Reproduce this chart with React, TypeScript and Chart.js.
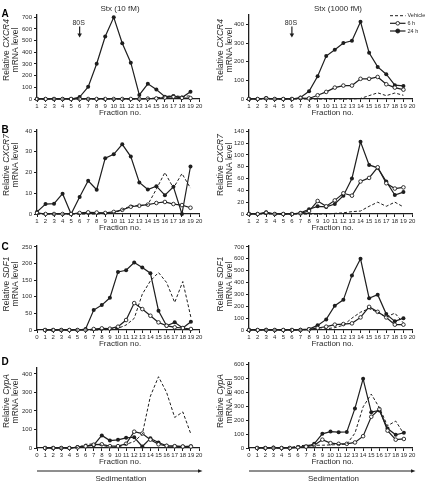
import React, { useEffect, useRef } from 'react';
import { Chart, registerables } from 'chart.js';

Chart.register(...registerables);

const FONT = '"Liberation Sans", Arial, Helvetica, sans-serif';
const INK = '#1e1e1e';
const TEXT = '#2c2c2c';

// Gradient fractions collected from each sucrose gradient
const FRACTIONS = [1, 2, 3, 4, 5, 6, 7, 8, 9, 10, 11, 12, 13, 14, 15, 16, 17, 18, 19];

// CXCR4, Stx 10 fM
const CXCR4_10_VEHICLE = [0, 0, 0, 0, 0, 0, 0, 0, 0, 0, 0, 0, 0, 2, 10, 18, 30, 20, 28];
const CXCR4_10_6H = [0, 0, 0, 0, 0, 0, 0, 0, 0, 0, 0, 0, 0, 3, 5, 12, 20, 10, 8];
const CXCR4_10_24H = [0, 0, 0, 0, 0, 17, 104, 302, 536, 700, 478, 311, 35, 130, 81, 20, 25, 12, 63];

// CXCR4, Stx 1000 fM
const CXCR4_1000_VEHICLE = [0, 0, 0, 0, 0, 0, 0, 0, 0, 0, 0, 0, 0, 3, 18, 33, 18, 32, 20];
const CXCR4_1000_6H = [0, 0, 3, 0, 0, 0, 5, 3, 20, 38, 61, 72, 72, 108, 108, 118, 79, 61, 50];
const CXCR4_1000_24H = [0, 0, 5, 0, 0, 0, 8, 41, 122, 230, 264, 300, 312, 414, 248, 172, 133, 74, 70];

// CXCR7, Stx 10 fM
const CXCR7_10_VEHICLE = [0, 0, 0, 0, 0, 0, 0, 0, 0.3, 0.5, 2, 4, 4, 4.5, 12, 20, 12.5, 19.5, 12.5];
const CXCR7_10_6H = [0.5, 0, 0, 0, 0, 0.5, 0.8, 0.7, 0.5, 1, 2, 3.5, 4, 4.5, 5.3, 5.8, 4.8, 4.3, 3];
const CXCR7_10_24H = [1, 4.8, 5, 9.8, 0, 8.2, 16, 11.7, 26.9, 28.8, 33.6, 27.7, 15.2, 11.8, 13.4, 9.1, 13.1, 0, 22.9];

// CXCR7, Stx 1000 fM
const CXCR7_1000_VEHICLE = [0, 0, 0, 0, 0, 0, 0, 0, 0, 0, 1, 2, 4, 5, 13, 20, 13, 20, 12];
const CXCR7_1000_6H = [0, 0, 2, 0, 0, 0, 1, 5, 22, 13, 23, 35, 31, 55, 61, 79, 52, 43, 45];
const CXCR7_1000_24H = [0, 0, 3, 0, 0, 0, 2, 8, 13, 12, 17, 31, 60, 122, 83, 78, 55, 32, 37];

// SDF1, Stx 10 fM
const SDF1_10_VEHICLE = [0, 0, 0, 0, 0, 0, 0, 0, 2, 5, 15, 35, 108, 148, 173, 143, 83, 146, 38];
const SDF1_10_6H = [0, 0, 0, 0, 0, 0, 3, 5, 4, 10, 30, 81, 63, 43, 23, 13, 8, 6, 3];
const SDF1_10_24H = [0, 0, 0, 0, 0, 3, 60, 75, 97, 175, 180, 203, 188, 171, 58, 13, 23, 6, 25];

// SDF1, Stx 1000 fM
const SDF1_1000_VEHICLE = [0, 0, 0, 0, 0, 0, 0, 3, 5, 10, 20, 40, 100, 150, 180, 150, 110, 142, 60];
const SDF1_1000_6H = [0, 0, 0, 0, 0, 0, 0, 5, 17, 28, 45, 50, 56, 106, 195, 153, 106, 45, 45];
const SDF1_1000_24H = [0, 0, 3, 0, 0, 0, 3, 8, 39, 89, 204, 254, 460, 600, 268, 298, 134, 73, 100];

// CypA, Stx 10 fM
const CYPA_10_VEHICLE = [0, 0, 0, 0, 2, 20, 22, 15, 5, 5, 20, 35, 75, 280, 385, 300, 165, 195, 75];
const CYPA_10_6H = [0, 0, 0, 0, 3, 10, 18, 20, 10, 10, 23, 88, 78, 45, 20, 12, 10, 8, 8];
const CYPA_10_24H = [0, 0, 0, 0, 5, 8, 15, 68, 40, 44, 55, 58, 8, 52, 30, 12, 10, 8, 10];

// CypA, Stx 1000 fM
const CYPA_1000_VEHICLE = [0, 0, 0, 0, 2, 15, 20, 20, 20, 22, 25, 28, 107, 296, 388, 290, 160, 194, 102];
const CYPA_1000_6H = [0, 0, 0, 0, 0, 5, 10, 20, 60, 35, 30, 30, 40, 85, 225, 280, 125, 60, 65];
const CYPA_1000_24H = [0, 0, 3, 0, 0, 5, 10, 30, 102, 118, 114, 116, 285, 498, 258, 270, 140, 95, 110];

const LEGEND_LABELS = ['Vehicle', '6 h', '24 h'];

type Box = { x: number; y: number; w: number; h: number };
type Area = { l: number; r: number; t: number; b: number };
type PanelSpec = {
  key: string;
  cell: Box;
  area: Area;
  xMin: number;
  yMax: number;
  yStep: number;
  vehicle: number[];
  h6: number[];
  h24: number[];
  gene: string;
  yTitleY: number;
  letter?: string;
  letterY?: number;
  title?: string;
  titleX?: number;
  marker80S?: boolean;
  legend?: boolean;
  sediment?: boolean;
};

const Y_AXIS_W = 30;
const X_AXIS_H = 14;
const X_MAX = 20;

const LEFT = { x: 0, w: 214 };
const RIGHT = { x: 214, w: 214 };
const ROW_A = { y: 0, h: 118 };
const ROW_B = { y: 118, h: 115 };
const ROW_C = { y: 233, h: 117 };
const ROW_D = { y: 350, h: 135 };

const PANELS: PanelSpec[] = [
  {
    key: 'a1', cell: { ...LEFT, ...ROW_A }, area: { l: 37, r: 199, t: 15, b: 99 },
    xMin: 1, yMax: 720, yStep: 100,
    vehicle: CXCR4_10_VEHICLE, h6: CXCR4_10_6H, h24: CXCR4_10_24H,
    gene: 'CXCR4', yTitleY: 50, letter: 'A', letterY: 14,
    title: 'Stx (10 fM)', titleX: 120, marker80S: true,
  },
  {
    key: 'a2', cell: { ...RIGHT, ...ROW_A }, area: { l: 249, r: 412, t: 15, b: 99 },
    xMin: 1, yMax: 450, yStep: 100,
    vehicle: CXCR4_1000_VEHICLE, h6: CXCR4_1000_6H, h24: CXCR4_1000_24H,
    gene: 'CXCR4', yTitleY: 50,
    title: 'Stx (1000 fM)', titleX: 338, marker80S: true, legend: true,
  },
  {
    key: 'b1', cell: { ...LEFT, ...ROW_B }, area: { l: 37, r: 199, t: 130, b: 214 },
    xMin: 1, yMax: 40.5, yStep: 10,
    vehicle: CXCR7_10_VEHICLE, h6: CXCR7_10_6H, h24: CXCR7_10_24H,
    gene: 'CXCR7', yTitleY: 165, letter: 'B', letterY: 130.5,
  },
  {
    key: 'b2', cell: { ...RIGHT, ...ROW_B }, area: { l: 249, r: 412, t: 130, b: 214 },
    xMin: 1, yMax: 142, yStep: 20,
    vehicle: CXCR7_1000_VEHICLE, h6: CXCR7_1000_6H, h24: CXCR7_1000_24H,
    gene: 'CXCR7', yTitleY: 165,
  },
  {
    key: 'c1', cell: { ...LEFT, ...ROW_C }, area: { l: 37, r: 199, t: 246, b: 330 },
    xMin: 0, yMax: 253, yStep: 50,
    vehicle: SDF1_10_VEHICLE, h6: SDF1_10_6H, h24: SDF1_10_24H,
    gene: 'SDF1', yTitleY: 284, letter: 'C', letterY: 247,
  },
  {
    key: 'c2', cell: { ...RIGHT, ...ROW_C }, area: { l: 249, r: 412, t: 246, b: 330 },
    xMin: 1, yMax: 708, yStep: 100,
    vehicle: SDF1_1000_VEHICLE, h6: SDF1_1000_6H, h24: SDF1_1000_24H,
    gene: 'SDF1', yTitleY: 284,
  },
  {
    key: 'd1', cell: { ...LEFT, ...ROW_D }, area: { l: 37, r: 199, t: 368, b: 448 },
    xMin: 0, yMax: 432, yStep: 100,
    vehicle: CYPA_10_VEHICLE, h6: CYPA_10_6H, h24: CYPA_10_24H,
    gene: 'CypA', yTitleY: 401, letter: 'D', letterY: 362, sediment: true,
  },
  {
    key: 'd2', cell: { ...RIGHT, ...ROW_D }, area: { l: 249, r: 412, t: 363, b: 448 },
    xMin: 0, yMax: 612, yStep: 100,
    vehicle: CYPA_1000_VEHICLE, h6: CYPA_1000_6H, h24: CYPA_1000_24H,
    gene: 'CypA', yTitleY: 401, sediment: true,
  },
];

// Evenly stepped tick values from lo up to (and including) the last step below hi
function stepTicks(lo: number, hi: number, step: number) {
  const out: { value: number }[] = [];
  for (let k = 0; lo + k * step <= hi + 1e-9; k++) out.push({ value: lo + k * step });
  return out;
}

function arrowDown(ctx: CanvasRenderingContext2D, x: number, y0: number, y1: number) {
  ctx.beginPath();
  ctx.moveTo(x, y0);
  ctx.lineTo(x, y1 - 3);
  ctx.lineWidth = 1.2;
  ctx.stroke();
  ctx.beginPath();
  ctx.moveTo(x - 2.3, y1 - 4);
  ctx.lineTo(x + 2.3, y1 - 4);
  ctx.lineTo(x, y1);
  ctx.closePath();
  ctx.fill();
}

// Draws the panel furniture: letter, titles, axis captions, 80S marker, legend, sedimentation arrow
function decorPlugin(spec: PanelSpec) {
  return {
    id: 'panelDecor',
    afterDraw(chart: Chart) {
      const ctx = chart.ctx;
      const ca = chart.chartArea;
      const ox = spec.cell.x;
      const oy = spec.cell.y;
      const xs = chart.scales.x;
      const midX = (ca.left + ca.right) / 2;
      ctx.save();
      ctx.fillStyle = TEXT;
      ctx.strokeStyle = INK;
      ctx.textBaseline = 'middle';

      if (spec.letter) {
        ctx.fillStyle = '#000';
        ctx.font = `bold 10px ${FONT}`;
        ctx.textAlign = 'left';
        ctx.fillText(spec.letter, 1.5, (spec.letterY ?? 0) - oy);
        ctx.fillStyle = TEXT;
      }

      if (spec.title) {
        ctx.font = `8px ${FONT}`;
        ctx.textAlign = 'center';
        ctx.fillText(spec.title, (spec.titleX ?? 0) - ox, 9 - oy);
      }

      // y-axis caption: "Relative <gene>" / "mRNA level"
      const yc = spec.yTitleY - oy;
      ctx.font = `8.5px ${FONT}`;
      const pre = 'Relative ';
      const wPre = ctx.measureText(pre).width;
      ctx.font = `italic 8.5px ${FONT}`;
      const wGene = ctx.measureText(spec.gene).width;
      ctx.save();
      ctx.translate(6.5, yc);
      ctx.rotate(-Math.PI / 2);
      ctx.textAlign = 'left';
      const start = -(wPre + wGene) / 2;
      ctx.font = `8.5px ${FONT}`;
      ctx.fillText(pre, start, 0);
      ctx.font = `italic 8.5px ${FONT}`;
      ctx.fillText(spec.gene, start + wPre, 0);
      ctx.restore();
      ctx.save();
      ctx.translate(15.5, yc);
      ctx.rotate(-Math.PI / 2);
      ctx.textAlign = 'center';
      ctx.font = `8.5px ${FONT}`;
      ctx.fillText('mRNA level', 0, 0);
      ctx.restore();

      // x-axis caption
      ctx.font = `8px ${FONT}`;
      ctx.textAlign = 'center';
      ctx.fillText('Fraction no.', midX + 2, ca.bottom + 14);

      if (spec.marker80S) {
        const px = xs.getPixelForValue(6);
        ctx.font = `7px ${FONT}`;
        ctx.textAlign = 'center';
        ctx.fillText('80S', px - 1, ca.top + 7.7);
        ctx.fillStyle = INK;
        arrowDown(ctx, px, ca.top + 11.5, ca.top + 22.5);
        ctx.fillStyle = TEXT;
      }

      if (spec.legend) {
        const x0 = 176;
        const x1 = 191.5;
        const rows = [15.7, 23.3, 31].map((v) => v - oy);
        ctx.font = `5.5px ${FONT}`;
        ctx.textAlign = 'left';
        rows.forEach((ry, i) => {
          ctx.strokeStyle = INK;
          ctx.lineWidth = i === 0 ? 1 : 1.2;
          ctx.setLineDash(i === 0 ? [3, 2] : []);
          ctx.beginPath();
          ctx.moveTo(x0, ry);
          ctx.lineTo(x1, ry);
          ctx.stroke();
          ctx.setLineDash([]);
          if (i > 0) {
            ctx.beginPath();
            ctx.arc((x0 + x1) / 2, ry, i === 1 ? 1.8 : 2, 0, Math.PI * 2);
            ctx.fillStyle = i === 1 ? '#fff' : INK;
            ctx.fill();
            ctx.lineWidth = 0.9;
            ctx.stroke();
          }
          ctx.fillStyle = TEXT;
          ctx.fillText(LEGEND_LABELS[i], x1 + 2, ry);
        });
      }

      if (spec.sediment) {
        const y = 471 - oy;
        const tip = ca.right + 3.5;
        ctx.strokeStyle = INK;
        ctx.fillStyle = INK;
        ctx.lineWidth = 1;
        ctx.beginPath();
        ctx.moveTo(ca.left, y);
        ctx.lineTo(tip - 3, y);
        ctx.stroke();
        ctx.beginPath();
        ctx.moveTo(tip - 4.5, y - 1.8);
        ctx.lineTo(tip - 4.5, y + 1.8);
        ctx.lineTo(tip, y);
        ctx.closePath();
        ctx.fill();
        ctx.fillStyle = TEXT;
        ctx.font = `8px ${FONT}`;
        ctx.textAlign = 'center';
        ctx.fillText('Sedimentation', midX + 3, 478.5 - oy);
      }
      ctx.restore();
    },
  };
}

function Panel({ spec }: { spec: PanelSpec }) {
  const ref = useRef<HTMLCanvasElement>(null);

  useEffect(() => {
    const canvas = ref.current;
    if (!canvas) return;
    const { cell, area } = spec;
    const pts = (vals: number[]) => FRACTIONS.map((f, i) => ({ x: f, y: vals[i] }));

    const tickFont = { family: FONT, size: 6 };
    const axisGrid = {
      drawOnChartArea: false,
      drawTicks: true,
      tickLength: 3,
      color: INK,
      lineWidth: 1,
    };
    const chart = new Chart(canvas, {
      type: 'line',
      data: {
        datasets: [
          {
            label: LEGEND_LABELS[0],
            data: pts(spec.vehicle),
            borderColor: INK,
            borderWidth: 1,
            borderDash: [3, 2],
            pointRadius: 0,
            tension: 0,
            clip: false,
          },
          {
            label: LEGEND_LABELS[1],
            data: pts(spec.h6),
            borderColor: INK,
            borderWidth: 1.2,
            pointRadius: 1.8,
            pointBackgroundColor: '#fff',
            pointBorderColor: INK,
            pointBorderWidth: 0.9,
            tension: 0,
            clip: false,
          },
          {
            label: LEGEND_LABELS[2],
            data: pts(spec.h24),
            borderColor: INK,
            borderWidth: 1.2,
            pointRadius: 2,
            pointBackgroundColor: INK,
            pointBorderColor: INK,
            pointBorderWidth: 0,
            tension: 0,
            clip: false,
          },
        ],
      },
      options: {
        responsive: false,
        animation: false,
        events: [],
        devicePixelRatio: 1,
        layout: {
          padding: {
            left: area.l - cell.x - Y_AXIS_W,
            right: cell.x + cell.w - area.r,
            top: area.t - cell.y,
            bottom: cell.y + cell.h - area.b - X_AXIS_H,
          },
        },
        plugins: {
          legend: { display: false },
          tooltip: { enabled: false },
          title: { display: false },
        },
        scales: {
          x: {
            type: 'linear',
            min: spec.xMin,
            max: X_MAX,
            bounds: 'data',
            ticks: {
              autoSkip: false,
              maxRotation: 0,
              minRotation: 0,
              font: tickFont,
              color: TEXT,
              padding: 1,
            },
            grid: axisGrid,
            border: { color: INK, width: 1.3 },
            afterBuildTicks: (s: any) => {
              s.ticks = stepTicks(spec.xMin, X_MAX, 1);
            },
            afterFit: (s: any) => {
              s.height = X_AXIS_H;
            },
          },
          y: {
            type: 'linear',
            min: 0,
            max: spec.yMax,
            bounds: 'data',
            ticks: {
              font: tickFont,
              color: TEXT,
              padding: 2,
            },
            grid: axisGrid,
            border: { color: INK, width: 1.3 },
            afterBuildTicks: (s: any) => {
              s.ticks = stepTicks(0, spec.yMax, spec.yStep);
            },
            afterFit: (s: any) => {
              s.width = Y_AXIS_W;
            },
          },
        },
      } as any,
      plugins: [decorPlugin(spec) as any],
    });
    return () => chart.destroy();
  }, [spec]);

  return (
    <canvas
      ref={ref}
      width={spec.cell.w}
      height={spec.cell.h}
      style={{
        position: 'absolute',
        left: spec.cell.x,
        top: spec.cell.y,
        width: spec.cell.w,
        height: spec.cell.h,
      }}
    />
  );
}

export default function App() {
  return (
    <div
      style={{
        position: 'fixed',
        left: 0,
        top: 0,
        width: 428,
        height: 485,
        background: '#fff',
        overflow: 'hidden',
      }}
    >
      {PANELS.map((p) => (
        <Panel key={p.key} spec={p} />
      ))}
    </div>
  );
}
